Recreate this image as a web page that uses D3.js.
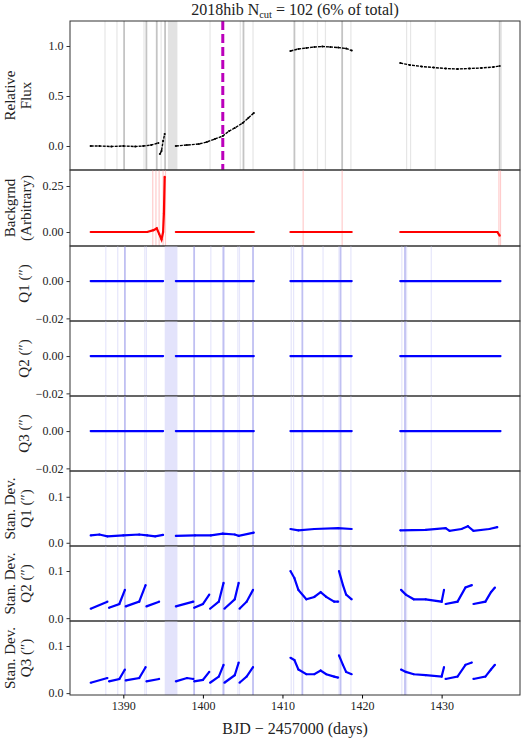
<!DOCTYPE html><html><head><meta charset="utf-8">
<script src="https://cdn.jsdelivr.net/npm/d3@7"></script>
<style>body{margin:0;background:#fff}text{font-family:"Liberation Serif","DejaVu Serif",serif}</style>
</head><body><svg id="c" width="525" height="742"></svg><script>
const xDomain=[1383.3,1439.85];
const xTicks=[1390,1400,1410,1420,1430];
const eventTime=1402.5;
const grayLines=[1387.7,1389.2,1390.1,1392.6,1392.9,1394.2,1394.75,1395.25,1400.9,1404.7,1405.1,1406.3,1411.5,1412.6,1414.4,1415.4,1417.5,1418.6,1425.6,1426.1,1429.2,1437.3,1437.5];
const darkLines=[1390.1,1392.9,1394.2,1395.25,1405.1,1411.5,1417.5,1437.3];
const bandRange=[1395.6,1396.8];
const redLines=[1393.7,1394.1,1394.5,1395.0,1395.3,1412.6,1417.5,1437.2,1437.4];
const blueLines=[1387.8,1389.3,1390.2,1392.7,1392.9,1398.9,1401.0,1402.5,1402.6,1404.4,1404.6,1406.3,1411.1,1411.4,1412.5,1415.1,1417.1,1417.3,1418.6,1425.0,1425.4,1425.6,1428.7];
const blueBand=[1395.2,1396.8];
const flux=[[[1385.9,0.0],[1387,0.0],[1388.5,-0.005],[1390,0.0],[1391.5,-0.005],[1392.5,0.0],[1393.5,0.01],[1394.4,0.03]],
 [[1394.6,-0.08],[1394.8,-0.05],[1395.0,0.05],[1395.2,0.12]],
 [[1396.6,0.0],[1398,0.01],[1399.5,0.02],[1400.5,0.04],[1401.5,0.07],[1402.5,0.1],[1403.3,0.15],[1404,0.18],[1405,0.23],[1405.7,0.28],[1406.4,0.33]],
 [[1411.0,0.95],[1412,0.97],[1413,0.98],[1414,0.99],[1415,0.995],[1416,0.99],[1417,0.985],[1418,0.975],[1418.7,0.955]],
 [[1424.8,0.83],[1426,0.81],[1427.5,0.795],[1429,0.785],[1430.5,0.775],[1432,0.77],[1433.5,0.775],[1435,0.78],[1436.5,0.79],[1437.3,0.8]]];
const bkg=[[[1385.9,0.0],[1390,0.0],[1393,0.0],[1393.8,0.01],[1394.2,0.02],[1394.5,-0.01],[1394.8,-0.04],[1395.0,0.0],[1395.1,0.1],[1395.2,0.3]],
 [[1396.6,0.0],[1406.4,0.0]],[[1411.0,0.0],[1418.7,0.0]],[[1424.8,0.0],[1437.0,0.0],[1437.3,-0.02]]];
const q1=[[[1385.9,0],[1395.0,0]],[[1396.6,0],[1406.4,0]],[[1411.0,0],[1418.7,0]],[[1424.8,0],[1437.4,0]]];
const q2=q1, q3=q1;
const sd1=[[[1385.9,0.016],[1387,0.018],[1388,0.014],[1390,0.016],[1392,0.018],[1393,0.016],[1394,0.014],[1395,0.017]],
 [[1396.6,0.015],[1399,0.016],[1401,0.016],[1402.5,0.02],[1404,0.018],[1404.5,0.015],[1406.4,0.022]],
 [[1411.0,0.03],[1412,0.027],[1414,0.03],[1417,0.032],[1418.7,0.03]],
 [[1424.8,0.027],[1428,0.028],[1430.5,0.032],[1431,0.026],[1432.5,0.03],[1433.3,0.036],[1434,0.026],[1436,0.03],[1437,0.034]]];
const sd2=[[[1385.9,0.02],[1388,0.035]],[[1388.2,0.022],[1389.5,0.03],[1390.2,0.06]],[[1390.3,0.025],[1392,0.035],[1392.8,0.07]],[[1392.9,0.025],[1394.5,0.035]],
 [[1396.6,0.025],[1398.8,0.035]],[[1398.9,0.022],[1400,0.03],[1400.8,0.05]],[[1400.9,0.02],[1402,0.035],[1402.6,0.075]],[[1402.7,0.02],[1404,0.04],[1404.5,0.075]],[[1404.6,0.02],[1405.5,0.035],[1406.3,0.06]],
 [[1411.0,0.1],[1411.5,0.085],[1412,0.06],[1413,0.04],[1414,0.045],[1414.8,0.055],[1415.5,0.045],[1416.5,0.035],[1417.0,0.035]],[[1417.1,0.1],[1417.6,0.07],[1418,0.05],[1418.7,0.04]],
 [[1424.9,0.06],[1425.5,0.05],[1426.5,0.04],[1428,0.04],[1430,0.035],[1430.3,0.06]],[[1430.5,0.03],[1432,0.035],[1433,0.065],[1433.8,0.07]],[[1434,0.03],[1435.5,0.035],[1436.2,0.055],[1436.7,0.065]]];
const sd3=[[[1385.9,0.022],[1388,0.032]],[[1388.2,0.025],[1389.5,0.03],[1390.2,0.05]],[[1390.3,0.027],[1392,0.032],[1392.8,0.055]],[[1392.9,0.025],[1394.5,0.03]],
 [[1396.6,0.025],[1398,0.032],[1398.8,0.03]],[[1398.9,0.025],[1400,0.028],[1400.8,0.045]],[[1400.9,0.022],[1402,0.035],[1402.6,0.06]],[[1402.7,0.022],[1404,0.038],[1404.5,0.065]],[[1404.6,0.022],[1405.5,0.035],[1406.3,0.055]],
 [[1411.0,0.075],[1411.5,0.07],[1412,0.05],[1413,0.04],[1414,0.04],[1414.8,0.048],[1415.5,0.04],[1416.5,0.035],[1417.0,0.033]],[[1417.1,0.08],[1417.6,0.06],[1418,0.045],[1418.7,0.04]],
 [[1424.9,0.05],[1425.5,0.045],[1426.5,0.04],[1428,0.038],[1430,0.035],[1430.3,0.055]],[[1430.5,0.03],[1432,0.035],[1433,0.06],[1433.8,0.065]],[[1434,0.03],[1435.5,0.035],[1436.2,0.05],[1436.7,0.06]]];

const svg=d3.select("#c");
const x=d3.scaleLinear().domain(xDomain).range([70,520]);
const panels=[
 {top:21,bot:170,dom:[-0.24,1.25],ticks:[0,0.5,1.0],fmt:d3.format(".1f"),data:flux,col:"#000",lab:["Relative","Flux"],vl:"gray"},
 {top:170,bot:246,dom:[-0.076,0.337],ticks:[0,0.25],fmt:d3.format(".2f"),data:bkg,col:"#f00",lab:["Backgrnd","(Arbitrary)"],vl:"red"},
 {top:246,bot:321,dom:[-0.0214,0.0188],ticks:[-0.02,0],fmt:d3.format(".2f"),data:q1,col:"#00f",lab:["Q1 (\u2033)"],vl:"blue"},
 {top:321,bot:396,dom:[-0.0214,0.0188],ticks:[-0.02,0],fmt:d3.format(".2f"),data:q2,col:"#00f",lab:["Q2 (\u2033)"],vl:"blue"},
 {top:396,bot:471,dom:[-0.0214,0.0188],ticks:[-0.02,0],fmt:d3.format(".2f"),data:q3,col:"#00f",lab:["Q3 (\u2033)"],vl:"blue"},
 {top:471,bot:546,dom:[-0.007,0.156],ticks:[0,0.1],fmt:d3.format(".1f"),data:sd1,col:"#00f",lab:["Stan. Dev.","Q1 (\u2033)"],vl:"blue"},
 {top:546,bot:621,dom:[-0.006,0.153],ticks:[0,0.1],fmt:d3.format(".1f"),data:sd2,col:"#00f",lab:["Stan. Dev.","Q2 (\u2033)"],vl:"blue"},
 {top:621,bot:695,dom:[-0.004,0.153],ticks:[0,0.1],fmt:d3.format(".1f"),data:sd3,col:"#00f",lab:["Stan. Dev.","Q3 (\u2033)"],vl:"blue"}];
panels.forEach((p,i)=>{
 const y=d3.scaleLinear().domain(p.dom).range([p.bot,p.top]);
 const g=svg.append("g");
 const H=p.bot-p.top;
 if(p.vl==="gray"){
  g.append("rect").attr("x",x(bandRange[0])).attr("width",x(bandRange[1])-x(bandRange[0])).attr("y",p.top).attr("height",H).attr("fill","#e2e2e2");
  grayLines.forEach(t=>g.append("line").attr("x1",x(t)).attr("x2",x(t)).attr("y1",p.top).attr("y2",p.bot).attr("stroke",darkLines.includes(t)?"#c4c4c4":"#e6e6e6").attr("stroke-width",darkLines.includes(t)?1.8:1.2));
 } else if(p.vl==="red"){
  redLines.forEach(t=>g.append("line").attr("x1",x(t)).attr("x2",x(t)).attr("y1",p.top).attr("y2",p.bot).attr("stroke","#fcc").attr("stroke-width",1.2));
 } else {
  g.append("rect").attr("x",x(blueBand[0])).attr("width",x(blueBand[1])-x(blueBand[0])).attr("y",p.top).attr("height",H).attr("fill","#e3e3fb");
  blueLines.forEach((t,k)=>g.append("line").attr("x1",x(t)).attr("x2",x(t)).attr("y1",p.top).attr("y2",p.bot).attr("stroke",k%3===2?"#c0c0f2":"#e6e6fb").attr("stroke-width",k%3===2?1.8:1.2));
 }
 const line=d3.line().x(d=>x(d[0])).y(d=>y(d[1]));
 p.data.forEach(seg=>{
  g.append("path").attr("d",line(seg)).attr("fill","none").attr("stroke",p.col).attr("stroke-width",i===0?1.4:2.2).attr("stroke-dasharray",i===0?"3,1":null);
  seg.forEach(d=>g.append("circle").attr("cx",x(d[0])).attr("cy",y(d[1])).attr("r",1.1).attr("fill",p.col));
 });
 if(i===0) g.append("line").attr("x1",x(eventTime)).attr("x2",x(eventTime)).attr("y1",p.top).attr("y2",p.bot).attr("stroke","#b0b").attr("stroke-width",3).attr("stroke-dasharray","9,4");
 const ax=g.append("g").attr("transform","translate(70,0)").call(d3.axisLeft(y).tickValues(p.ticks).tickFormat(p.fmt).tickSize(3.5));
 ax.select(".domain").remove();
 ax.selectAll("text").attr("font-size",12).attr("fill","#222").attr("font-family","Liberation Serif");
 ax.selectAll("line").attr("stroke","#333");
 g.append("rect").attr("x",70).attr("y",p.top).attr("width",450).attr("height",H).attr("fill","none").attr("stroke","#333").attr("stroke-width",1);
 const cy=(p.top+p.bot)/2, n=p.lab.length;
 p.lab.forEach((s,k)=>g.append("text").attr("transform",`translate(${20+ (k-(n-1)/2)*16 + (n===1?6:0)},${cy}) rotate(-90)`).attr("text-anchor","middle").attr("dominant-baseline","middle").attr("font-size",15).attr("fill","#222").text(s));
});
const xa=svg.append("g").attr("transform","translate(0,695)").call(d3.axisBottom(x).tickValues(xTicks).tickFormat(d3.format("d")).tickSize(3.5));
xa.select(".domain").remove();
xa.selectAll("text").attr("font-size",12).attr("fill","#222").attr("font-family","Liberation Serif");
svg.append("text").attr("x",295).attr("y",734).attr("text-anchor","middle").attr("font-size",16).attr("fill","#222").text("BJD \u2212 2457000 (days)");
const t=svg.append("text").attr("x",295).attr("y",15).attr("text-anchor","middle").attr("font-size",16).attr("fill","#222");
t.append("tspan").text("2018hib  N");
t.append("tspan").attr("font-size",10.5).attr("dy",3).text("cut");
t.append("tspan").attr("dy",-3).text(" = 102 (6% of total)");
</script></body></html>
